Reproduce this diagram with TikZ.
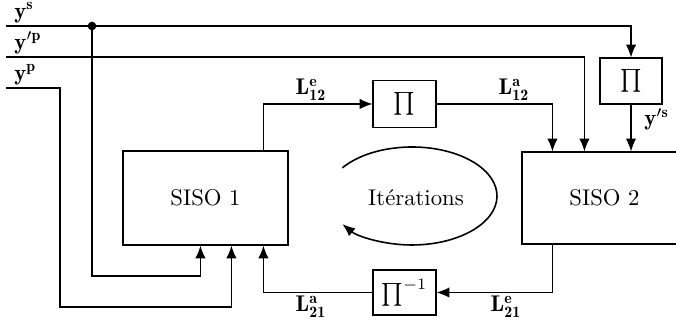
\documentclass[tikz,border=0pt]{standalone}
\usepackage{fontspec}
\usetikzlibrary{arrows.meta}
\begin{document}
\begin{tikzpicture}[x=0.44pt,y=0.44pt,
  arr/.style={-{Latex[length=5.6pt,width=4.5pt]}},
  blk/.style={draw,inner sep=0pt,line width=0.5pt},
  lab/.style={inner sep=1.2pt},
  line width=0.5pt]
\useasboundingbox (0,0) rectangle (676,-326);
% blocks
\node[blk,minimum width=72.6pt,minimum height=41.4pt] (s1) at (205.5,-198) {SISO 1};
\begin{scope}
\clip (0,0) rectangle (676,-326);
\node[blk,minimum width=72.6pt,minimum height=40.5pt] (s2) at (604.5,-198) {SISO 2};
\end{scope}
\node[blk,minimum width=27.7pt,minimum height=20.7pt] (p1) at (404.5,-104) {$\prod$};
\node[blk,minimum width=27.3pt,minimum height=20.2pt] (p2) at (631,-81) {$\prod$};
\node[blk,minimum width=27.7pt,minimum height=19.8pt] (pinv) at (404.5,-292.5) {$\prod^{-1}$};
% inputs
\coordinate (ys) at (6,-26);
\coordinate (ypp) at (6,-57);
\coordinate (yp) at (6,-88);
\coordinate (d) at (92,-26);
\coordinate (b1) at (92,-276);
\coordinate (b2) at (60,-88);
\coordinate (b3) at (60,-307);
\node[lab,anchor=south west] (lys) at (11,-26) {$\mathbf{y}^{\mathbf{s}}$};
\node[lab,anchor=south west] (lypp) at (11,-57) {$\mathbf{y}^{\prime\mathbf{p}}$};
\node[lab,anchor=south west] (lyp) at (11,-88) {$\mathbf{y}^{\mathbf{p}}$};
\draw[arr] (ys) -| (p2.north);
\fill (d) circle[radius=1.9pt];
\draw[arr] (d) -- (b1) -| ([shift={(78,0)}]s1.south west);
\draw[arr] (ypp) -| ([shift={(63,0)}]s2.north west);
\draw[arr] (yp) -- (b2) -- (b3) -| ([shift={(109,0)}]s1.south west);
% loop
\draw[arr] ([shift={(141,0)}]s1.north west) |- (p1.west);
\draw[arr] (p1.east) -| ([shift={(31,0)}]s2.north west);
\draw[arr] (p2.south) -- (p2.south |- s2.north);
\draw[arr] ([shift={(31,0)}]s2.south west) |- (pinv.east);
\draw[arr] (pinv.west) -| ([shift={(141,0)}]s1.south west);
% labels
\node[lab,anchor=south] (l12e) at (311,-104) {$\mathbf{L}^{\mathbf{e}}_{\mathbf{12}}$};
\node[lab,anchor=south] (l12a) at (514,-104) {$\mathbf{L}^{\mathbf{a}}_{\mathbf{12}}$};
\node[lab,anchor=west] (lyps) at (641,-119) {$\mathbf{y}^{\prime\mathbf{s}}$};
\node[lab,anchor=north] (l21a) at (311,-293) {$\mathbf{L}^{\mathbf{a}}_{\mathbf{21}}$};
\node[lab,anchor=north] (l21e) at (506,-293) {$\mathbf{L}^{\mathbf{e}}_{\mathbf{21}}$};
% iterations
\node (it) at (416,-198) {Itérations};
\draw[arr,line width=0.7pt] (412,-196) ++(145:85 and 49) arc[start angle=145,end angle=-145,x radius=85,y radius=49];
\end{tikzpicture}
\end{document}
